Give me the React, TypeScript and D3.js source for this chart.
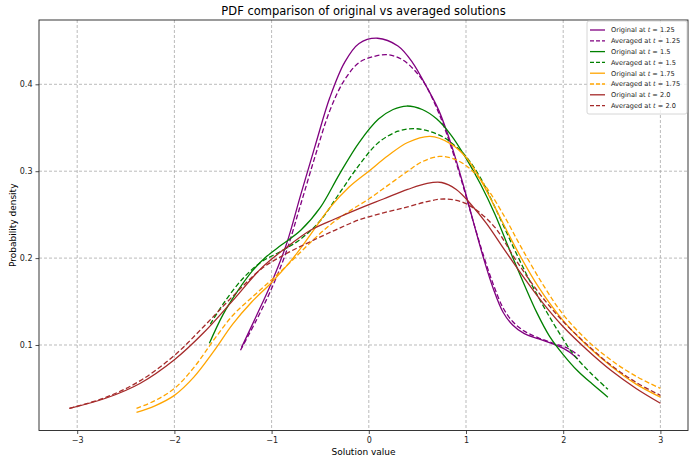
import React, { useRef, useEffect } from 'react';
import * as d3 from 'd3';

// values (x = solution value, y = density)
const original125: [number, number][] = [
  [-1.31, 0.097], [-1.15, 0.135], [-1.0, 0.172], [-0.85, 0.215], [-0.7, 0.273],
  [-0.55, 0.33], [-0.4, 0.385], [-0.25, 0.425], [-0.1, 0.447], [0.09, 0.453],
  [0.3, 0.444], [0.45, 0.425], [0.58, 0.4], [0.72, 0.37], [0.85, 0.33],
  [0.97, 0.285], [1.08, 0.24], [1.18, 0.2], [1.28, 0.165], [1.38, 0.138],
  [1.48, 0.123], [1.6, 0.113], [1.75, 0.107], [1.9, 0.101], [2.05, 0.093],
  [2.15, 0.084],
];
const averaged125: [number, number][] = [
  [-1.32, 0.094], [-1.15, 0.13], [-1.0, 0.165], [-0.85, 0.207], [-0.7, 0.262],
  [-0.55, 0.318], [-0.4, 0.37], [-0.25, 0.405], [-0.1, 0.425], [0.05, 0.432],
  [0.2, 0.434], [0.35, 0.428], [0.48, 0.415], [0.58, 0.4], [0.72, 0.367],
  [0.85, 0.327], [0.97, 0.283], [1.08, 0.24], [1.18, 0.203], [1.28, 0.17],
  [1.38, 0.143], [1.48, 0.127], [1.6, 0.116], [1.75, 0.108], [1.9, 0.102],
  [2.05, 0.096], [2.17, 0.087],
];
const original15: [number, number][] = [
  [-1.64, 0.102], [-1.5, 0.135], [-1.35, 0.162], [-1.2, 0.185], [-1.05, 0.202],
  [-0.9, 0.215], [-0.7, 0.232], [-0.5, 0.258], [-0.3, 0.297], [-0.1, 0.333],
  [0.1, 0.36], [0.25, 0.371], [0.39, 0.375], [0.55, 0.371], [0.7, 0.36],
  [0.85, 0.341], [1.0, 0.315], [1.15, 0.285], [1.3, 0.25], [1.45, 0.209],
  [1.59, 0.172], [1.73, 0.137], [1.86, 0.11], [2.0, 0.089], [2.15, 0.07],
  [2.3, 0.055], [2.46, 0.04],
];
const averaged15: [number, number][] = [
  [-1.63, 0.124], [-1.5, 0.147], [-1.3, 0.176], [-1.1, 0.196], [-0.9, 0.208],
  [-0.7, 0.222], [-0.5, 0.243], [-0.3, 0.275], [-0.1, 0.307], [0.1, 0.333],
  [0.3, 0.346], [0.46, 0.349], [0.62, 0.346], [0.77, 0.339], [0.9, 0.328],
  [1.0, 0.317], [1.15, 0.292], [1.3, 0.258], [1.49, 0.212], [1.66, 0.173],
  [1.83, 0.138], [1.97, 0.112], [2.1, 0.09], [2.28, 0.068], [2.46, 0.049],
];
const original175: [number, number][] = [
  [-2.39, 0.0225], [-2.2, 0.03], [-2.0, 0.042], [-1.8, 0.063], [-1.6, 0.092],
  [-1.4, 0.124], [-1.2, 0.15], [-1.0, 0.172], [-0.8, 0.197], [-0.6, 0.227],
  [-0.4, 0.258], [-0.2, 0.282], [0.0, 0.3], [0.2, 0.318], [0.4, 0.333],
  [0.63, 0.34], [0.835, 0.332], [1.0, 0.316], [1.15, 0.29], [1.35, 0.247],
  [1.52, 0.21], [1.75, 0.166], [2.0, 0.128], [2.24, 0.1], [2.5, 0.075],
  [2.75, 0.055], [3.0, 0.04],
];
const averaged175: [number, number][] = [
  [-2.39, 0.027], [-2.2, 0.036], [-2.0, 0.05], [-1.8, 0.074], [-1.6, 0.105],
  [-1.4, 0.134], [-1.2, 0.155], [-1.0, 0.175], [-0.8, 0.196], [-0.6, 0.218],
  [-0.4, 0.238], [-0.2, 0.254], [0.0, 0.268], [0.2, 0.284], [0.4, 0.3],
  [0.55, 0.311], [0.73, 0.317], [0.9, 0.313], [1.05, 0.302], [1.2, 0.283],
  [1.4, 0.247], [1.57, 0.212], [1.8, 0.168], [2.0, 0.135], [2.25, 0.105],
  [2.5, 0.082], [2.75, 0.064], [3.0, 0.05],
];
const original20: [number, number][] = [
  [-3.08, 0.027], [-2.7, 0.039], [-2.35, 0.056], [-2.0, 0.083], [-1.7, 0.114],
  [-1.4, 0.151], [-1.1, 0.189], [-0.85, 0.212], [-0.6, 0.232], [-0.35, 0.245],
  [-0.1, 0.257], [0.15, 0.268], [0.4, 0.279], [0.6, 0.286], [0.75, 0.287],
  [0.9, 0.279], [1.05, 0.262], [1.21, 0.24], [1.4, 0.209], [1.6, 0.177],
  [1.8, 0.147], [2.0, 0.121], [2.25, 0.094], [2.5, 0.07], [2.75, 0.05],
  [3.0, 0.033],
];
const averaged20: [number, number][] = [
  [-3.08, 0.027], [-2.7, 0.04], [-2.35, 0.059], [-2.0, 0.088], [-1.7, 0.121],
  [-1.4, 0.156], [-1.1, 0.188], [-0.85, 0.205], [-0.6, 0.219], [-0.35, 0.232],
  [-0.1, 0.244], [0.15, 0.252], [0.4, 0.259], [0.6, 0.265], [0.77, 0.268],
  [0.95, 0.265], [1.11, 0.255], [1.3, 0.235], [1.5, 0.2], [1.75, 0.16],
  [2.0, 0.127], [2.25, 0.1], [2.5, 0.076], [2.75, 0.057], [3.0, 0.042],
];

const seriesData = [original125, averaged125, original15, averaged15, original175, averaged175, original20, averaged20];
const seriesKind = ['Original', 'Averaged', 'Original', 'Averaged', 'Original', 'Averaged', 'Original', 'Averaged'];
const seriesTime = ['1.25', '1.25', '1.5', '1.5', '1.75', '1.75', '2.0', '2.0'];
const seriesColors = ['purple', 'purple', 'green', 'green', 'orange', 'orange', 'brown', 'brown'];

const xTicks = [-3, -2, -1, 0, 1, 2, 3];
const yTicks = [0.1, 0.2, 0.3, 0.4];

const W = 689;
const H = 459;
const left = 39;
const right = 688;
const top = 20;
const bottom = 430.5;
const font = 'DejaVu Sans, sans-serif';

const App = () => {
  const svgRef = useRef<SVGSVGElement>(null);

  useEffect(() => {
    const svg = d3.select(svgRef.current);
    svg.selectAll('*').remove();

    const x = d3.scaleLinear().domain([-3.393, 3.284]).range([left, right]);
    const y = d3.scaleLinear().domain([0.0016, 0.474]).range([bottom, top]);

    // grid
    const grid = svg.append('g');
    grid.selectAll('.gx')
      .data(xTicks)
      .join('line')
      .attr('x1', d => x(d)).attr('x2', d => x(d))
      .attr('y1', top).attr('y2', bottom)
      .attr('stroke', '#aaa').attr('stroke-width', 0.8).attr('stroke-dasharray', '3,2');
    grid.selectAll('.gy')
      .data(yTicks)
      .join('line')
      .attr('x1', left).attr('x2', right)
      .attr('y1', d => y(d)).attr('y2', d => y(d))
      .attr('stroke', '#aaa').attr('stroke-width', 0.8).attr('stroke-dasharray', '3,2');

    // curves
    const line = d3.line<[number, number]>()
      .x(d => x(d[0]))
      .y(d => y(d[1]))
      .curve(d3.curveCatmullRom.alpha(0.5));

    seriesData.forEach((s, i) => {
      svg.append('path')
        .datum(s)
        .attr('d', line)
        .attr('fill', 'none')
        .attr('stroke', seriesColors[i])
        .attr('stroke-width', 1.3)
        .attr('stroke-dasharray', seriesKind[i] === 'Averaged' ? '5,2.5' : null);
    });

    // frame
    svg.append('rect')
      .attr('x', left).attr('y', top)
      .attr('width', right - left).attr('height', bottom - top)
      .attr('fill', 'none').attr('stroke', '#222').attr('stroke-width', 0.9);

    // axes
    const xAxis = d3.axisBottom(x).tickValues(xTicks).tickSize(3.5).tickPadding(3)
      .tickFormat(d => (d as number) < 0 ? '\u2212' + Math.abs(d as number) : String(d));
    const gx = svg.append('g').attr('transform', `translate(0,${bottom})`).call(xAxis);
    const yAxis = d3.axisLeft(y).tickValues(yTicks).tickSize(3.5).tickPadding(3)
      .tickFormat(d3.format('.1f'));
    const gy = svg.append('g').attr('transform', `translate(${left},0)`).call(yAxis);
    [gx, gy].forEach(g => {
      g.select('.domain').remove();
      g.selectAll('text').attr('font-family', font).attr('font-size', 8).attr('fill', '#222');
      g.selectAll('line').attr('stroke', '#222').attr('stroke-width', 0.8);
    });

    // labels
    svg.append('text')
      .attr('x', (left + right) / 2).attr('y', 15)
      .attr('text-anchor', 'middle').attr('font-family', font).attr('font-size', 11.5)
      .text('PDF comparison of original vs averaged solutions');
    svg.append('text')
      .attr('x', (left + right) / 2).attr('y', 455)
      .attr('text-anchor', 'middle').attr('font-family', font).attr('font-size', 9)
      .text('Solution value');
    svg.append('text')
      .attr('transform', `translate(16,${(top + bottom) / 2}) rotate(-90)`)
      .attr('text-anchor', 'middle').attr('font-family', font).attr('font-size', 9)
      .text('Probability density');

    // legend
    const lg = svg.append('g');
    lg.append('rect')
      .attr('x', 587).attr('y', 21).attr('width', 100).attr('height', 93)
      .attr('rx', 2).attr('fill', 'white').attr('fill-opacity', 0.8)
      .attr('stroke', '#ccc').attr('stroke-width', 0.8);
    seriesKind.forEach((k, i) => {
      const yy = 30 + i * 10.8;
      lg.append('line')
        .attr('x1', 590).attr('x2', 605).attr('y1', yy).attr('y2', yy)
        .attr('stroke', seriesColors[i]).attr('stroke-width', 1.3)
        .attr('stroke-dasharray', k === 'Averaged' ? '4,2' : null);
      const t = lg.append('text')
        .attr('x', 611).attr('y', yy + 2.3)
        .attr('font-family', font).attr('font-size', 6.6).attr('fill', '#222');
      t.append('tspan').text(`${k} at `);
      t.append('tspan').attr('font-style', 'italic').text('t');
      t.append('tspan').text(` = ${seriesTime[i]}`);
    });
  }, []);

  return (
    <svg
      ref={svgRef}
      width={W}
      height={H}
      style={{ position: 'absolute', left: 0, top: 0, background: 'white' }}
    />
  );
};

export default App;
